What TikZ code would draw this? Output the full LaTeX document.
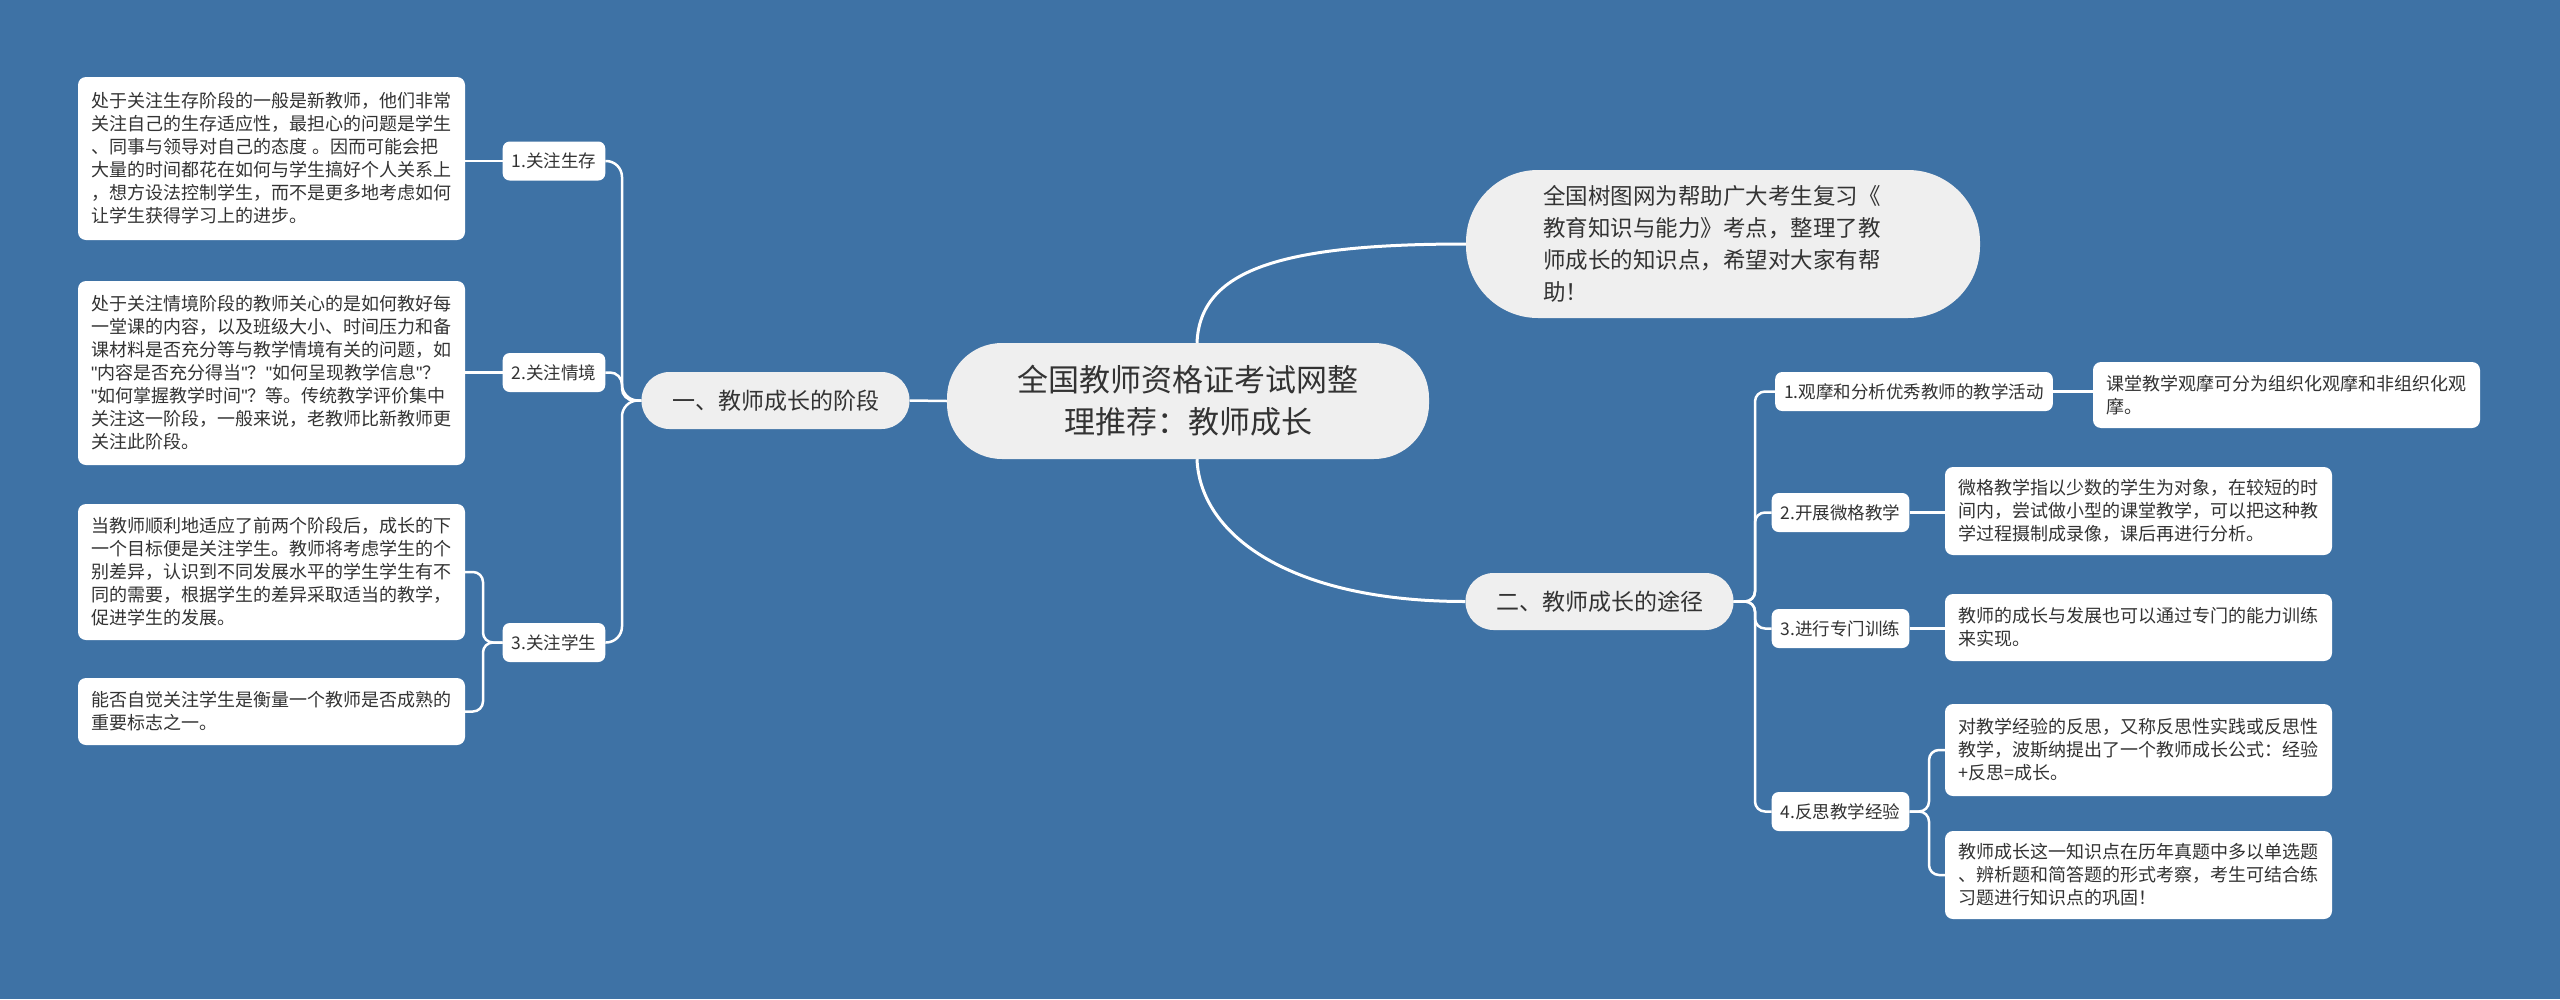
\documentclass[tikz,border=0pt]{standalone}
\usepackage{fontspec}
\setmainfont{Noto Sans CJK SC}
\newfontfamily\latinfont{Liberation Sans}
\newcommand\dqm{{\latinfont\symbol{34}}}
\definecolor{bg}{RGB}{62,114,165}
\definecolor{pillgray}{RGB}{239,239,239}
\definecolor{txt}{RGB}{51,51,51}
\begin{document}
\begin{tikzpicture}[x=1pt,y=-1pt,
 conn/.style={draw=white, line width=2.5pt},
 leaf/.style={fill=white, rounded corners=8pt, text=txt, font=\fontsize{18}{23}\selectfont, align=left, text width=361pt, inner xsep=13pt, inner ysep=0pt},
 mid/.style={fill=white, rounded corners=7pt, text=txt, font=\fontsize{17.5}{22}\selectfont, inner xsep=9pt, inner ysep=0pt, minimum height=39pt},
 mainpill/.style={fill=pillgray, text=txt, font=\fontsize{23}{28}\selectfont, minimum height=57pt, minimum width=268pt, rounded corners=28pt, inner sep=0pt},
]
\fill[bg] (0,0) rectangle (2560,999);
\useasboundingbox (0,0) rectangle (2560,999);

% central and top nodes
\node[fill=pillgray, text=txt, rounded corners=55pt, minimum width=482pt, minimum height=116pt, align=center, font=\fontsize{31}{42}\selectfont, inner sep=0pt] (c) at (1188,401) {全国教师资格证考试网整\\理推荐：教师成长};
\node[fill=pillgray, text=txt, rounded corners=72pt, minimum width=514pt, minimum height=148pt, align=left, text width=360pt, font=\fontsize{22.5}{32}\selectfont, inner xsep=77pt, inner ysep=0pt] (t) at (1723,244) {全国树图网为帮助广大考生复习《\\教育知识与能力》考点，整理了教\\师成长的知识点，希望对大家有帮\\助！};

\node[mainpill] (b1) at (775.5,400.5) {一、教师成长的阶段};
\node[mainpill] (b2) at (1599.5,601.5) {二、教师成长的途径};

% left branch
\node[mid] (n1) at (554,161) {1.关注生存};
\node[mid] (n2) at (554,372.5) {2.关注情境};
\node[mid] (n3) at (554,642.5) {3.关注学生};

\node[leaf, minimum height=163pt] (l1) at (271.5,158.5) {处于关注生存阶段的一般是新教师，他们非常\\关注自己的生存适应性，最担心的问题是学生\\、同事与领导对自己的态度 。因而可能会把\\大量的时间都花在如何与学生搞好个人关系上\\，想方设法控制学生，而不是更多地考虑如何\\让学生获得学习上的进步。};
\node[leaf, minimum height=184pt] (l2) at (271.5,373) {处于关注情境阶段的教师关心的是如何教好每\\一堂课的内容，以及班级大小、时间压力和备\\课材料是否充分等与教学情境有关的问题，如\\\dqm 内容是否充分得当\dqm？\dqm 如何呈现教学信息\dqm？\\\dqm 如何掌握教学时间\dqm？等。传统教学评价集中\\关注这一阶段，一般来说，老教师比新教师更\\关注此阶段。};
\node[leaf, minimum height=136pt] (l3a) at (271.5,572) {当教师顺利地适应了前两个阶段后，成长的下\\一个目标便是关注学生。教师将考虑学生的个\\别差异，认识到不同发展水平的学生学生有不\\同的需要，根据学生的差异采取适当的教学，\\促进学生的发展。};
\node[leaf, minimum height=67pt] (l3b) at (271.5,711.5) {能否自觉关注学生是衡量一个教师是否成熟的\\重要标志之一。};

% right branch
\node[mid] (m1) at (1914,391.5) {1.观摩和分析优秀教师的教学活动};
\node[mid] (m2) at (1840.5,512.5) {2.开展微格教学};
\node[mid] (m3) at (1840.5,628.5) {3.进行专门训练};
\node[mid] (m4) at (1840.5,811.5) {4.反思教学经验};

\node[leaf, minimum height=66pt] (r1) at (2286.5,395) {课堂教学观摩可分为组织化观摩和非组织化观\\摩。};
\node[leaf, minimum height=88pt] (r2) at (2138.5,511) {微格教学指以少数的学生为对象，在较短的时\\间内，尝试做小型的课堂教学，可以把这种教\\学过程摄制成录像，课后再进行分析。};
\node[leaf, minimum height=67pt] (r3) at (2138.5,627.5) {教师的成长与发展也可以通过专门的能力训练\\来实现。};
\node[leaf, minimum height=92pt] (r4a) at (2138.5,750) {对教学经验的反思，又称反思性实践或反思性\\教学，波斯纳提出了一个教师成长公式：经验\\+反思=成长。};
\node[leaf, minimum height=88pt] (r4b) at (2138.5,875) {教师成长这一知识点在历年真题中多以单选题\\、辨析题和简答题的形式考察，考生可结合练\\习题进行知识点的巩固！};

% spine coordinates
\coordinate (ls) at (622,400.5);
\coordinate (s3) at (483,642.5);
\coordinate (rs) at (1755,601.5);
\coordinate (s4) at (1929,811.5);

% connectors
\draw[conn, line width=3pt] (c.north) ++(9,0) coordinate (ctop) .. controls (1200,270) and (1280,244) .. (t.west);
\draw[conn, line width=3pt] (c.south) ++(9,0) coordinate (cbot) .. controls (1200,535) and (1290,601.5) .. (b2.west);
\draw[conn] (c.west) -- (b1.east);

\draw[conn, rounded corners=16pt] (b1.west) -- (ls) |- (n1.east);
\draw[conn, rounded corners=12pt] (b1.west) -- (ls) |- (n2.east);
\draw[conn, rounded corners=16pt] (b1.west) -- (ls) |- (n3.east);

\draw[conn] (n1.west) -- (n1.west -| l1.east);
\draw[conn] (n2.west) -- (n2.west -| l2.east);
\draw[conn, rounded corners=10pt] (n3.west) -- (s3) |- (l3a.east);
\draw[conn, rounded corners=10pt] (n3.west) -- (s3) |- (l3b.east);

\draw[conn, rounded corners=10pt] (b2.east) -- (rs) |- (m1.west);
\draw[conn, rounded corners=10pt] (b2.east) -- (rs) |- (m2.west);
\draw[conn, rounded corners=10pt] (b2.east) -- (rs) |- (m3.west);
\draw[conn, rounded corners=10pt] (b2.east) -- (rs) |- (m4.west);

\draw[conn] (m1.east) -- (m1.east -| r1.west);
\draw[conn] (m2.east) -- (m2.east -| r2.west);
\draw[conn] (m3.east) -- (m3.east -| r3.west);
\draw[conn, rounded corners=10pt] (m4.east) -- (s4) |- (r4a.west);
\draw[conn, rounded corners=10pt] (m4.east) -- (s4) |- (r4b.west);
\end{tikzpicture}
\end{document}
